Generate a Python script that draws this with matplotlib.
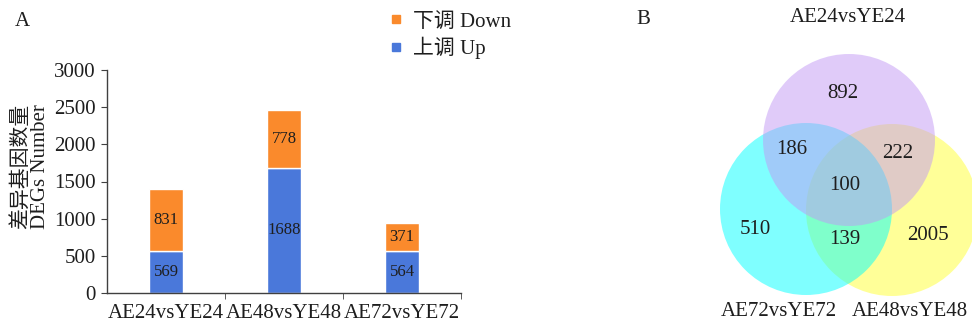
import matplotlib.pyplot as plt
from matplotlib.patches import Circle
from matplotlib.lines import Line2D

plt.rcParams['font.family'] = ['Liberation Serif', 'Noto Sans CJK SC']

# DEG counts per comparison
groups = ["AE24vsYE24", "AE48vsYE48", "AE72vsYE72"]
up = [569, 1688, 564]
down = [831, 778, 371]

# Venn region counts
venn_sets = ["AE24vsYE24", "AE72vsYE72", "AE48vsYE48"]
venn_counts = {"A": 892, "AC": 186, "AB": 222, "ABC": 100, "C": 510, "BC": 139, "B": 2005}

c_up = "#4a78da"
c_down = "#fa8a2c"
txt = "#1e1e1e"
fs = 15

fig = plt.figure(figsize=(9.72, 3.25), dpi=100)

# ---- A: stacked bars
ax = fig.add_axes([107/972, 32/325, 354/972, 223/325])
x = list(range(len(groups)))
ax.bar(x, up, width=0.28, color=c_up, edgecolor="white", linewidth=1)
ax.bar(x, down, bottom=up, width=0.28, color=c_down, edgecolor="white", linewidth=1)
for i in x:
    ax.text(i, up[i] / 2, str(up[i]), ha="center", va="center", fontsize=12, color=txt)
    ax.text(i, up[i] + down[i] / 2, str(down[i]), ha="center", va="center", fontsize=12, color=txt)

ax.set_xlim(-0.5, 2.5)
ax.set_ylim(0, 3000)
ax.set_yticks([0, 500, 1000, 1500, 2000, 2500, 3000])
ax.set_xticks(x)
ax.set_xticklabels(groups)
ax.set_xticks([0.5, 1.5, 2.5], minor=True)
ax.tick_params(axis="x", which="major", length=0, pad=8, labelsize=fs, colors=txt)
ax.tick_params(axis="x", which="minor", length=4, direction="out", color="#404040")
ax.tick_params(axis="y", length=4, direction="out", pad=4, labelsize=fs, color="#404040", labelcolor=txt)
for s in ["top", "right"]:
    ax.spines[s].set_visible(False)
for s in ["left", "bottom"]:
    ax.spines[s].set_color("#404040")
    ax.spines[s].set_linewidth(1)

fig.text(31/972, 1 - 166/325, "差异基因数量\nDEGs Number", rotation=90, ha="center", va="center",
         multialignment="left", linespacing=1.0, fontsize=fs, color=txt)

handles = [Line2D([], [], marker="s", ls="", color=c_down, markersize=6),
           Line2D([], [], marker="s", ls="", color=c_up, markersize=6)]
fig.legend(handles, ["下调 Down", "上调 Up"], loc="upper left", bbox_to_anchor=(388/972, 1 - 12/325),
           frameon=False, fontsize=fs, handlelength=0.8, handletextpad=0.4, labelspacing=0.25,
           borderpad=0, borderaxespad=0, labelcolor=txt)

fig.text(15/972, 1 - 22/325, "A", fontsize=fs, va="center", color=txt)
fig.text(636/972, 1 - 20/325, "B", fontsize=fs, va="center", color=txt)

# ---- B: Venn diagram (axes units = pixels)
av = fig.add_axes([600/972, 0, 372/972, 1])
av.set_xlim(0, 372)
av.set_ylim(325, 0)
av.axis("off")
r = 86
av.add_patch(Circle((292, 210), r, color="#ffff33", alpha=0.5, lw=0))
av.add_patch(Circle((206, 209), r, color="#00ffff", alpha=0.5, lw=0))
av.add_patch(Circle((249, 140), r, color="#c299f5", alpha=0.5, lw=0))

pos = {"A": (243, 93), "AC": (192, 150), "AB": (298, 153), "ABC": (245, 185),
       "C": (155, 230), "BC": (245, 240), "B": (328, 235)}
for k, v in venn_counts.items():
    av.text(pos[k][0], pos[k][1], str(v), ha="center", va="center", fontsize=fs, color=txt)

set_pos = [(248, 17), (179, 311), (310, 311)]
for name, p in zip(venn_sets, set_pos):
    av.text(p[0], p[1], name, ha="center", va="center", fontsize=fs, color=txt)

fig.savefig("out.png", dpi=100)
